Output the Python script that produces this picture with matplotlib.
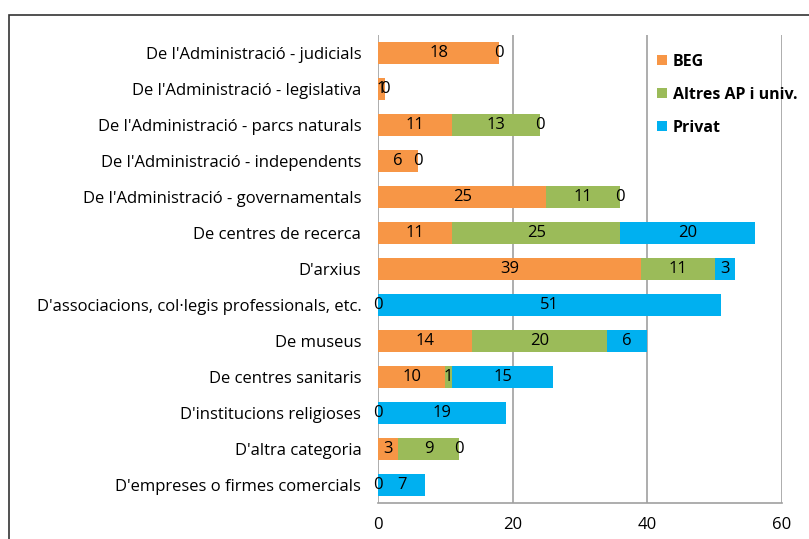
import numpy as np
import matplotlib
matplotlib.use("Agg")
import matplotlib.pyplot as plt
from matplotlib.patches import Rectangle

plt.rcParams['font.family'] = ['Open Sans', 'DejaVu Sans']

categories = [
    "De l'Administració - judicials",
    "De l'Administració - legislativa",
    "De l'Administració - parcs naturals",
    "De l'Administració - independents",
    "De l'Administració - governamentals",
    "De centres de recerca",
    "D'arxius",
    "D'associacions, col·legis professionals, etc.",
    "De museus",
    "De centres sanitaris",
    "D'institucions religioses",
    "D'altra categoria",
    "D'empreses o firmes comercials",
]
nan = np.nan
beg    = [18, 1, 11, 6, 25, 11, 39, 0, 14, 10, 0, 3, 0]
altres = [0, 0, 13, 0, 11, 25, 11, nan, 20, 1, nan, 9, nan]
privat = [nan, nan, 0, nan, 0, 20, 3, 51, 6, 15, 19, 0, 7]

series = [("BEG", beg, "#F79646"),
          ("Altres AP i univ.", altres, "#9BBB59"),
          ("Privat", privat, "#00B0F0")]

fig = plt.figure(figsize=(8.09, 5.39), dpi=100)
ax = fig.add_axes([378/809, 1-503/539, (782-378)/809, (503-35)/539])

y = np.arange(len(categories))
left = np.zeros(len(categories))
for name, vals, col in series:
    v = np.array(vals, dtype=float)
    w = np.nan_to_num(v)
    ax.barh(y, w, left=left, height=0.62, color=col, label=name, zorder=2)
    for yi, (l, val) in enumerate(zip(left, v)):
        if not np.isnan(val):
            ax.text(l + val/2, yi, "%d" % val, ha='center', va='center',
                    fontsize=12, color='black', zorder=3)
    left = left + w

ax.set_ylim(len(categories) - 0.5, -0.5)
ax.set_xlim(0, 60)
ax.set_xticks([0, 20, 40, 60])
ax.set_yticks(y)
ax.set_yticklabels(categories, fontsize=12)
ax.tick_params(axis='both', length=0, labelsize=12)
ax.tick_params(axis='x', pad=10)
ax.tick_params(axis='y', pad=12)
ax.grid(axis='x', color='#A0A0A0', linewidth=1.2, zorder=0)
for s in ['top', 'right', 'left']:
    ax.spines[s].set_visible(False)
ax.spines['bottom'].set_color('#A0A0A0')
ax.spines['bottom'].set_linewidth(1.2)

leg = ax.legend(loc='upper left', bbox_to_anchor=(0.655, 0.99), frameon=False,
                handlelength=0.6, handleheight=0.6, handletextpad=0.4,
                labelspacing=1.05, prop={'weight': 'bold', 'size': 11.5})

# outer frame of the chart area
fig.patches.append(Rectangle((9/809, -0.1), 1.2, 1 + 0.1 - 15/539,
                             transform=fig.transFigure, fill=False,
                             edgecolor='#333333', linewidth=1.2))

plt.savefig('out.png', dpi=100)
